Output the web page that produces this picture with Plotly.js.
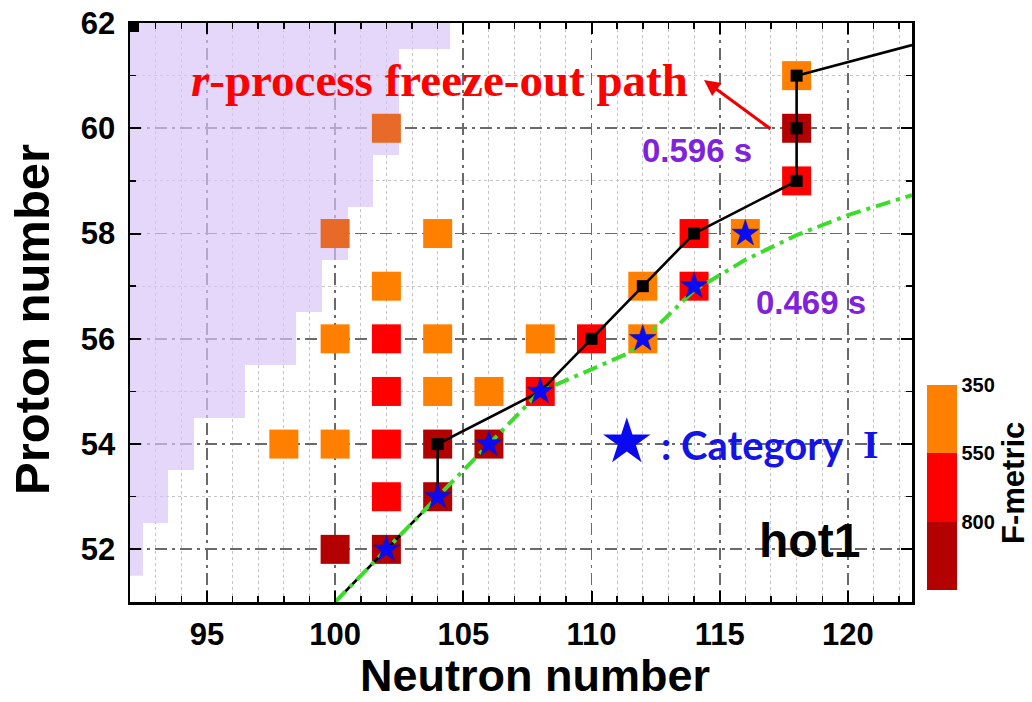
<!DOCTYPE html>
<html>
<head>
<meta charset="utf-8">
<script src="https://cdn.plot.ly/plotly-3.0.1.min.js"></script>
<style>html,body{margin:0;padding:0;background:#fff;}</style>
</head>
<body>
<div id="chart" style="width:1032px;height:702px;"></div>
<script>
// Nuclei (N, Z) coloured by F-metric band: 0 = 350-550, 1 = 550-800, 2 = above 800
const squareN = [118, 118, 118, 104, 114, 116, 102, 112, 114, 100, 102, 104, 108, 110, 112, 102, 104, 106, 108, 98, 100, 102, 104, 106, 102, 104, 100, 102];
const squareZ = [61, 60, 59, 58, 58, 58, 57, 57, 57, 56, 56, 56, 56, 56, 56, 55, 55, 55, 55, 54, 54, 54, 54, 54, 53, 53, 52, 52];
const squareBand = [0, 2, 1, 0, 1, 0, 0, 0, 1, 0, 1, 0, 0, 1, 0, 1, 0, 0, 1, 0, 0, 1, 2, 2, 1, 2, 2, 2];

// Nuclei at the drip-line edge drawn in a separate tone
const edgeN = [102, 100];
const edgeZ = [60, 58];

// F-metric band edges shown on the colour bar
const bandEdges = ['350', '550', '800'];
const bandColors = ['#FF8000', '#FF0000', '#B30000'];

// r-process freeze-out path (black) and its nodes
const freezeN = [100, 102, 104, 104, 108, 110, 112, 114, 118, 118, 118, 122.5];
const freezeZ = [51, 52, 53, 54, 55, 56, 57, 58, 59, 60, 61, 61.58];
const nodeN = [104, 110, 112, 114, 118, 118, 118];
const nodeZ = [54, 56, 57, 58, 59, 60, 61];

// Path at 0.469 s (green dash-dot)
const earlyN = [100, 102, 104, 106, 108, 110, 111.5, 114, 116, 118, 120, 122.5];
const earlyZ = [51, 52, 53, 54, 55, 55.42, 55.74, 56.92, 57.5, 57.97, 58.35, 58.73];

// Category I nuclei
const starN = [102, 104, 106, 108, 112, 114, 116];
const starZ = [52, 53, 54, 55, 56, 57, 58];

// Neutron-drip region: largest N inside the shaded region for each Z row
const dripZ = [52, 53, 54, 55, 56, 57, 58, 59, 60, 61, 62];
const dripNmax = [92, 93, 94, 96, 98, 99, 100, 101, 102, 102, 104];

// Corner node
const cornerN = [92];
const cornerZ = [62];

const FONT = 'Liberation Sans, Arial, sans-serif';
const SERIF = 'Liberation Serif, Times New Roman, serif';

// plot area in pixels
const L = 130, T = 23, W = 782, H = 579;
const px = x => (x - L) / W;
const py = y => (T + H - y) / H;

// lavender drip-region grid
const dripCols = [];
for (let n = 92; n <= 104; n++) dripCols.push(n);
const dripZgrid = dripZ.map((z, i) => dripCols.map(n => (n <= dripNmax[i] ? 1 : null)));

const nBands = bandEdges.length;
const bandLevel = squareBand.map(b => nBands - b - 0.5);
const cs = [];
for (let k = 0; k < nBands; k++) {
  const c = bandColors[nBands - 1 - k];
  cs.push([k / nBands, c], [(k + 1) / nBands, c]);
}

const traces = [
  {
    type: 'heatmap', x: dripCols, y: dripZ, z: dripZgrid,
    colorscale: [[0, '#D9C4F7'], [1, '#D9C4F7']], showscale: false,
    opacity: 0.68, hoverinfo: 'skip', zsmooth: false
  },
  {
    type: 'scatter', mode: 'markers', x: squareN, y: squareZ,
    marker: {
      symbol: 'square', size: 29, color: bandLevel, colorscale: cs, cmin: 0, cmax: nBands,
      line: {width: 0},
      showscale: true,
      colorbar: {
        thickness: 30, thicknessmode: 'pixels', len: 205, lenmode: 'pixels',
        x: px(927), xanchor: 'left', y: py(385), yanchor: 'top', xpad: 0, ypad: 0,
        outlinewidth: 0, ticks: '',
        tickvals: [3, 2, 1], ticktext: bandEdges,
        tickfont: {family: FONT, size: 20, weight: 'bold', color: '#000'}
      }
    },
    hoverinfo: 'skip', showlegend: false
  },
  {
    type: 'scatter', mode: 'markers', x: edgeN, y: edgeZ,
    marker: {symbol: 'square', size: 29, color: '#E86A28', line: {width: 0}},
    hoverinfo: 'skip', showlegend: false
  },
  {
    type: 'scatter', mode: 'lines', x: freezeN, y: freezeZ,
    line: {color: '#000', width: 2.6}, hoverinfo: 'skip', showlegend: false
  },
  {
    type: 'scatter', mode: 'lines', x: earlyN, y: earlyZ,
    line: {color: '#3CDC2A', width: 4, dash: '15px,6px,4px,6px'}, hoverinfo: 'skip', showlegend: false
  },
  {
    type: 'scatter', mode: 'markers', x: nodeN, y: nodeZ,
    marker: {symbol: 'square', size: 12, color: '#000'}, hoverinfo: 'skip', showlegend: false
  },
  {
    type: 'scatter', mode: 'markers', x: cornerN, y: cornerZ,
    marker: {symbol: 'square', size: 18, color: '#000'}, hoverinfo: 'skip', showlegend: false
  },
  {
    type: 'scatter', mode: 'markers', x: starN, y: starZ,
    marker: {symbol: 'star', size: 20, color: '#0A0AF5', line: {color: '#1a1a90', width: 0.6}},
    hoverinfo: 'skip', showlegend: false
  }
];

const axisCommon = {
  showline: true, linecolor: '#000', linewidth: 2.5, mirror: 'allticks',
  ticks: 'inside', ticklen: 11, tickwidth: 2, tickcolor: '#000',
  showgrid: true, gridcolor: '#6a6a6a', gridwidth: 1.8, griddash: '12px,5px,3px,5px',
  zeroline: false, fixedrange: true,
  tickfont: {family: FONT, size: 31, weight: 'bold', color: '#000'},
  minor: {dtick: 1, ticks: 'inside', ticklen: 6, tickwidth: 1.5, tickcolor: '#000',
          showgrid: true, gridcolor: '#c4c4c4', gridwidth: 1, griddash: '3px,3px'}
};

const layout = {
  width: 1032, height: 702,
  margin: {l: L, r: 1032 - L - W, t: T, b: 702 - T - H},
  paper_bgcolor: '#fff', plot_bgcolor: '#fff',
  showlegend: false,
  xaxis: Object.assign({}, axisCommon, {range: [92, 122.5], tick0: 0, dtick: 5, ticklabelstandoff: 3}),
  yaxis: Object.assign({}, axisCommon, {range: [51, 62], tick0: 0, dtick: 2, ticklabelstandoff: 6}),
  annotations: [
    // axis titles
    {xref: 'paper', yref: 'paper', x: px(535), y: py(675), xanchor: 'center', yanchor: 'middle', showarrow: false,
     text: 'Neutron number', font: {family: FONT, size: 45, weight: 'bold', color: '#000'}},
    {xref: 'paper', yref: 'paper', x: px(32), y: py(320), xanchor: 'center', yanchor: 'middle', showarrow: false,
     textangle: -90, text: 'Proton number', font: {family: FONT, size: 49, weight: 'bold', color: '#000'}},
    // labels inside the plot
    {xref: 'paper', yref: 'paper', x: px(189), y: py(80), xanchor: 'left', yanchor: 'middle', showarrow: false,
     text: '<i>r</i>-process freeze-out path', font: {family: SERIF, size: 47, weight: 'bold', color: '#FF0000'}},
    {xref: 'paper', yref: 'paper', x: px(704), y: py(80), ax: 68, ay: 50, text: '', showarrow: true,
     arrowhead: 2, arrowsize: 1, arrowwidth: 3.2, arrowcolor: '#F00000'},
    {xref: 'paper', yref: 'paper', x: px(697), y: py(150), xanchor: 'center', yanchor: 'middle', showarrow: false,
     text: '0.596 s', font: {family: FONT, size: 33, weight: 'bold', color: '#7F22DD'}},
    {xref: 'paper', yref: 'paper', x: px(811), y: py(302), xanchor: 'center', yanchor: 'middle', showarrow: false,
     text: '0.469 s', font: {family: FONT, size: 33, weight: 'bold', color: '#7F22DD'}},
    {xref: 'paper', yref: 'paper', x: px(809), y: py(540), xanchor: 'center', yanchor: 'middle', showarrow: false,
     text: 'hot1', font: {family: FONT, size: 48, weight: 'bold', color: '#000'}},
    {xref: 'paper', yref: 'paper', x: px(627), y: py(440), xanchor: 'center', yanchor: 'middle', showarrow: false,
     text: '★', font: {family: 'DejaVu Sans', size: 62, color: '#0A0AF0'}},
    {xref: 'paper', yref: 'paper', x: px(659), y: py(445), xanchor: 'left', yanchor: 'middle', showarrow: false,
     text: ': Category', font: {family: 'Lato, Noto Sans, sans-serif', size: 40, weight: 'bold', color: '#1414E6'}},
    {xref: 'paper', yref: 'paper', x: px(871), y: py(444), xanchor: 'center', yanchor: 'middle', showarrow: false,
     text: 'I', font: {family: SERIF, size: 40, weight: 'bold', color: '#1414E6'}},
    {xref: 'paper', yref: 'paper', x: px(1013), y: py(483), xanchor: 'center', yanchor: 'middle', showarrow: false,
     textangle: -90, text: 'F-metric', font: {family: FONT, size: 31, weight: 'bold', color: '#000'}}
  ]
};

Plotly.newPlot('chart', traces, layout, {staticPlot: true, displayModeBar: false});
</script>
</body>
</html>
